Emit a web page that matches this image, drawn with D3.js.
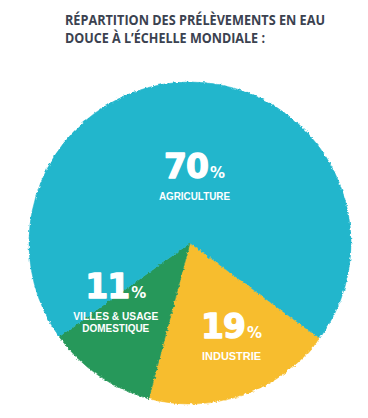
<!DOCTYPE html>
<html><head><meta charset="utf-8">
<script src="https://cdn.jsdelivr.net/npm/d3@7"></script>
<style>html,body{margin:0;padding:0;background:#fff;}svg{display:block;}</style>
</head><body>
<script>
// ---- data ----
const categories = ["INDUSTRIE", "VILLES & USAGE|DOMESTIQUE", "AGRICULTURE"];
const values = [19, 11, 70];
const titleLines = ["RÉPARTITION DES PRÉLÈVEMENTS EN EAU", "DOUCE À L’ÉCHELLE MONDIALE :"];

// ---- layout / style ----
const W = 368, H = 418;
const cx = 190, cy = 243, R = 161;
const colors = ["#f7bd2f", "#27985a", "#20b6cc"];
const labelRadius = [104, 92, 65];
const labelNudge = [[7, -3], [-22, -21], [4, 0]];
const labelWidths = [[59], [85, 67], [71]];

const svg = d3.select("body").append("svg").attr("width", W).attr("height", H);

const defs = svg.append("defs");
const f = defs.append("filter").attr("id", "rough").attr("x", "-5%").attr("y", "-5%").attr("width", "110%").attr("height", "110%");
f.append("feTurbulence").attr("type", "fractalNoise").attr("baseFrequency", 0.35).attr("numOctaves", 2).attr("seed", 3).attr("result", "n");
f.append("feDisplacementMap").attr("in", "SourceGraphic").attr("in2", "n").attr("scale", 3.5).attr("xChannelSelector", "R").attr("yChannelSelector", "G");

// title
const title = svg.append("g").attr("fill", "#3b4250")
  .style("font-family", "'Open Sans', sans-serif").style("font-weight", 700).style("font-size", "14.5px");
const titleWidths = [260, 200];
titleLines.forEach((t, i) => {
  title.append("text").attr("x", 65).attr("y", 25 + i * 17.5)
    .attr("textLength", titleWidths[i]).attr("lengthAdjust", "spacingAndGlyphs").text(t);
});

const startA = 126.4 * Math.PI / 180;
const pie = d3.pie().sort(null).value(d => d).startAngle(startA).endAngle(startA + 2 * Math.PI);
const arcs = pie(values);
const arc = d3.arc().innerRadius(0).outerRadius(R);

const g = svg.append("g").attr("transform", `translate(${cx},${cy})`);
g.append("g").attr("filter", "url(#rough)")
  .selectAll("path").data(arcs).join("path")
  .attr("d", arc).attr("fill", (d, i) => colors[i]).attr("stroke", (d, i) => colors[i]).attr("stroke-width", 0.6);

arcs.forEach((d, i) => {
  const la = d3.arc().innerRadius(labelRadius[i]).outerRadius(labelRadius[i]);
  const [x, y] = la.centroid(d);
  const lx = x + labelNudge[i][0], ly = y + labelNudge[i][1];
  const t = g.append("text").attr("x", lx).attr("y", ly).attr("text-anchor", "middle").attr("fill", "#fff");
  t.append("tspan").style("font-family", "'DejaVu Sans', sans-serif").style("font-weight", 700).style("font-size", "33px")
    .attr("stroke", "#fff").attr("stroke-width", 1.3).attr("stroke-linejoin", "round")
    .style("letter-spacing", "-1px").text(d.data);
  t.append("tspan").attr("dx", 2).style("font-family", "'DejaVu Sans', sans-serif").style("font-weight", 700).style("font-size", "15px").text("%");
  const lines = categories[i].split("|");
  const lt = g.append("text").attr("text-anchor", "middle").attr("fill", "#fff")
    .style("font-family", "'Liberation Sans', Arial, sans-serif").style("font-weight", 700).style("font-size", "11px");
  lines.forEach((ln, j) => {
    lt.append("tspan").attr("x", lx).attr("y", ly + 22 + j * 12.5)
      .attr("textLength", labelWidths[i][j]).attr("lengthAdjust", "spacingAndGlyphs").text(ln);
  });
});
</script>
</body></html>
